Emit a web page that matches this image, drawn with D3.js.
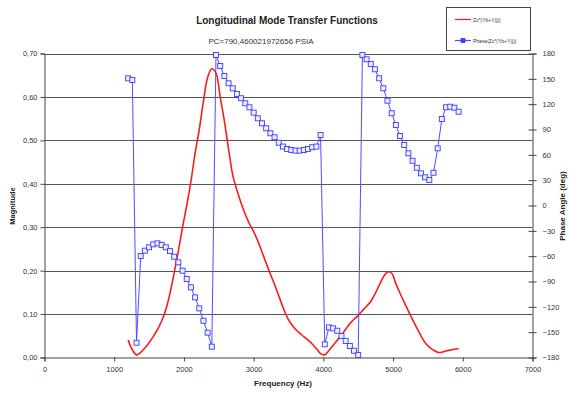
<!DOCTYPE html>
<html>
<head>
<meta charset="utf-8">
<script src="https://cdn.jsdelivr.net/npm/d3@7"></script>
<style>
  html, body { margin: 0; padding: 0; background: #fff; }
  svg { display: block; font-family: "Liberation Sans", Arial, sans-serif; }
</style>
</head>
<body>
<svg id="chart" width="569" height="394"></svg>
<script>
// Frequency grid (Hz)
const freq = [
  1200,1260,1320,1380,1440,1500,1560,1620,1680,1740,1800,1860,1920,1980,2040,2100,
  2160,2220,2280,2340,2400,2460,2520,2580,2640,2700,2760,2820,2880,2940,3000,3060,
  3120,3180,3240,3300,3360,3420,3480,3540,3600,3660,3720,3780,3840,3900,3960,4020,
  4080,4140,4200,4260,4320,4380,4440,4500,4560,4620,4680,4740,4800,4860,4920,4980,
  5040,5100,5160,5220,5280,5340,5400,5460,5520,5580,5640,5700,5760,5820,5880,5940
];

// |Zc*(Yb+Y(j))|
const magnitude = [
  0.040,0.018,0.006,0.012,0.022,0.034,0.048,0.064,0.084,0.110,0.148,0.195,0.245,0.300,0.350,0.405,
  0.470,0.525,0.590,0.645,0.665,0.655,0.600,0.545,0.480,0.420,0.385,0.356,0.330,0.308,0.290,0.268,
  0.243,0.217,0.192,0.168,0.142,0.116,0.093,0.077,0.065,0.056,0.048,0.040,0.031,0.020,0.009,0.006,
  0.016,0.028,0.040,0.052,0.065,0.078,0.088,0.097,0.108,0.118,0.129,0.146,0.166,0.185,0.197,0.194,
  0.170,0.148,0.127,0.107,0.087,0.068,0.050,0.034,0.024,0.017,0.012,0.012,0.015,0.017,0.019,0.020
];

// Phase(Zc*(Yb+Y(j))) in degrees
const phase = [
  150.6,148.6,-162.5,-59.8,-53.5,-49.5,-46.0,-44.8,-46.8,-49.5,-54.0,-60.6,-67.3,-77.2,-87.0,-96.9,
  -108.8,-121.8,-136.5,-150.6,-167.2,178.2,165.2,153.4,144.7,138.8,132.0,127.0,121.0,116.3,110.0,103.2,
  97.3,91.4,85.5,80.8,74.4,69.8,66.9,65.7,65.0,65.0,65.7,66.9,69.0,69.8,83.5,-164.4,
  -144.4,-145.5,-148.3,-154.6,-160.5,-166.4,-172.0,-177.1,178.2,173.1,167.6,161.3,150.6,138.8,124.1,109.2,
  95.3,82.3,71.6,61.8,53.0,44.7,38.1,33.4,30.2,38.8,67.7,102.4,116.3,117.0,115.8,111.1
];

const xTicks = [0,1000,2000,3000,4000,5000,6000,7000];
const magTicks = [0,0.1,0.2,0.3,0.4,0.5,0.6,0.7];
const phaseTicks = [-180,-150,-120,-90,-60,-30,0,30,60,90,120,150,180];

const titleText = "Longitudinal Mode Transfer Functions";
const subtitleText = "PC=790,460021972656  PSIA";
const legendLabels = ["Zc*(Yb+Y(j))", "Phase(Zc*(Yb+Y(j))"];

const svg = d3.select("#chart");
const plot = { left: 44.5, right: 532.5, top: 53.5, bottom: 357.5 };

const x = d3.scaleLinear().domain([0, 7000]).range([plot.left, plot.right]);
const yMag = d3.scaleLinear().domain([0, 0.7]).range([plot.bottom, plot.top]);
const yPh = d3.scaleLinear().domain([-180, 180]).range([plot.bottom, plot.top]);

const fmtMag = v => d3.format(".2f")(v).replace(".", ",");
const tickColor = "#444";
const labelColor = "#333";

// horizontal grid lines on the magnitude scale
svg.append("g")
  .selectAll("line")
  .data(magTicks.filter(d => d > 0))
  .join("line")
  .attr("x1", plot.left).attr("x2", plot.right)
  .attr("y1", d => Math.round(yMag(d)) + 0.5).attr("y2", d => Math.round(yMag(d)) + 0.5)
  .attr("stroke", "#555").attr("stroke-width", 1);

// left axis
const gL = svg.append("g").attr("transform", `translate(${plot.left},0)`)
  .call(d3.axisLeft(yMag).tickValues(magTicks).tickFormat(fmtMag).tickSize(4).tickPadding(3));
gL.select(".domain").attr("stroke", tickColor);
gL.selectAll(".tick line").attr("stroke", tickColor);
gL.selectAll("text").attr("font-size", 7.5).attr("fill", labelColor)
  .attr("font-family", "Liberation Sans, Arial, sans-serif");

// bottom axis
const gB = svg.append("g").attr("transform", `translate(0,${plot.bottom})`)
  .call(d3.axisBottom(x).tickValues(xTicks).tickFormat(d3.format("d")).tickSize(4).tickPadding(5));
gB.select(".domain").attr("stroke", tickColor);
gB.selectAll(".tick line").attr("stroke", tickColor);
gB.selectAll("text").attr("font-size", 7.5).attr("fill", labelColor)
  .attr("font-family", "Liberation Sans, Arial, sans-serif");

// right axis (phase), ticks crossing the axis line
const gR = svg.append("g").attr("transform", `translate(${plot.right},0)`)
  .call(d3.axisRight(yPh).tickValues(phaseTicks).tickSize(4).tickPadding(6));
gR.select(".domain").attr("stroke", tickColor);
gR.selectAll(".tick line").attr("stroke", tickColor).attr("x1", -4);
gR.selectAll("text").attr("font-size", 7.5).attr("fill", labelColor)
  .attr("font-family", "Liberation Sans, Arial, sans-serif");

// magnitude curve
svg.append("path")
  .datum(freq.map((f, i) => [f, magnitude[i]]))
  .attr("fill", "none")
  .attr("stroke", "#ff1a1a")
  .attr("stroke-width", 1.6)
  .attr("d", d3.line().x(d => x(d[0])).y(d => yMag(d[1])).curve(d3.curveCatmullRom.alpha(0.5)));

// phase line with open square markers
const phasePts = freq.map((f, i) => [f, phase[i]]);
svg.append("path")
  .datum(phasePts)
  .attr("fill", "none")
  .attr("stroke", "#4d4dff")
  .attr("stroke-width", 1)
  .attr("d", d3.line().x(d => x(d[0])).y(d => yPh(d[1])));

svg.append("g")
  .selectAll("rect")
  .data(phasePts)
  .join("rect")
  .attr("x", d => x(d[0]) - 2.5).attr("y", d => yPh(d[1]) - 2.5)
  .attr("width", 5).attr("height", 5)
  .attr("fill", "#eef0ff")
  .attr("stroke", "#3a3aff")
  .attr("stroke-width", 0.9);

// titles
svg.append("text").attr("x", 287).attr("y", 24).attr("text-anchor", "middle")
  .attr("font-size", 10).attr("font-weight", "bold").attr("fill", "#222").text(titleText);
svg.append("text").attr("x", 261).attr("y", 44).attr("text-anchor", "middle")
  .attr("font-size", 8).attr("fill", "#333").text(subtitleText);

svg.append("text").attr("x", 283).attr("y", 386).attr("text-anchor", "middle")
  .attr("font-size", 8).attr("font-weight", "bold").attr("fill", "#222").text("Frequency (Hz)");
svg.append("text").attr("transform", "translate(15,206) rotate(-90)").attr("text-anchor", "middle")
  .attr("font-size", 7.5).attr("font-weight", "bold").attr("fill", "#222").text("Magnitude");
svg.append("text").attr("transform", "translate(565,206) rotate(-90)").attr("text-anchor", "middle")
  .attr("font-size", 8).attr("font-weight", "bold").attr("fill", "#222").text("Phase Angle (deg)");

// legend
const lg = svg.append("g");
lg.append("rect").attr("x", 446.5).attr("y", 7.5).attr("width", 84).attr("height", 43)
  .attr("fill", "#fff").attr("stroke", "#444").attr("stroke-width", 1);
lg.append("line").attr("x1", 455).attr("x2", 471).attr("y1", 19.5).attr("y2", 19.5)
  .attr("stroke", "#ff1a1a").attr("stroke-width", 1.2);
lg.append("text").attr("x", 473).attr("y", 21.5).attr("font-size", 5).attr("fill", "#333").text(legendLabels[0]);
lg.append("line").attr("x1", 455).attr("x2", 471).attr("y1", 40.5).attr("y2", 40.5)
  .attr("stroke", "#4d4dff").attr("stroke-width", 1.2);
lg.append("rect").attr("x", 461).attr("y", 38.5).attr("width", 4).attr("height", 4)
  .attr("fill", "#3a3aff").attr("stroke", "#3a3aff").attr("stroke-width", 0.8);
lg.append("text").attr("x", 473).attr("y", 42.5).attr("font-size", 5).attr("fill", "#333").text(legendLabels[1]);
</script>
</body>
</html>
